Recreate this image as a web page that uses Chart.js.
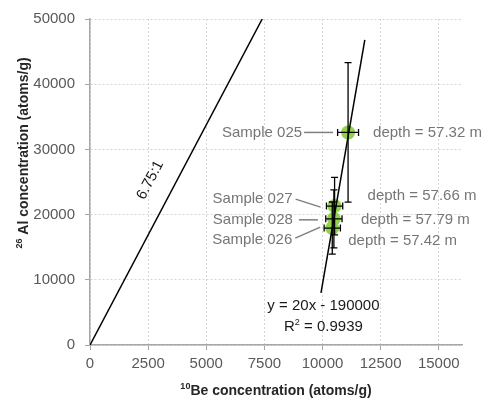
<!DOCTYPE html>
<html>
<head>
<meta charset="utf-8">
<script src="https://cdn.jsdelivr.net/npm/chart.js@4.4.0/dist/chart.umd.min.js"></script>
<style>
  body { margin: 0; background: #fff; }
  #wrap { width: 488px; height: 404px; }
</style>
</head>
<body>
<div id="wrap"><canvas id="chart"></canvas></div>
<script>
// Samples
const sampleNames = ["Sample 025", "Sample 027", "Sample 028", "Sample 026"];
const sampleDepths = ["depth = 57.32 m", "depth = 57.66 m", "depth = 57.79 m", "depth = 57.42 m"];
const beValues = [11100, 10520, 10490, 10420];
const alValues = [32600, 21300, 19350, 17930];
const beErrors = [450, 350, 350, 350];
const alErrors = [10700, 4400, 4450, 4000];

// 6.75:1 production ratio line
const ratioX = [0, 7407];
const ratioY = [0, 50000];

// Linear fit through the samples
const fitX = [9935, 11820];
const fitY = [8000, 46800];

// Axis ticks
const xTickValues = [0, 2500, 5000, 7500, 10000, 12500, 15000];
const yTickValues = [0, 10000, 20000, 30000, 40000, 50000];

const font = "'Liberation Sans', Arial, sans-serif";
const textGray = "#767676";

// Label placement around each point (pixels from the point)
const labelOffsets = [
  { name: [-46, 0], lead: [-44, 0, -15, 0], depth: [25, 0] },
  { name: [-42, -7], lead: [-39, -7, -14, 1], depth: [33, -10] },
  { name: [-41, 1], lead: [-35, 1, -16, 1], depth: [27, 1] },
  { name: [-40, 12], lead: [-37, 10, -12, -1], depth: [16, 13] }
];

const toPoints = (xs, ys) => xs.map((v, i) => ({ x: v, y: ys[i] }));

// Draws error bars, labels and axis titles
const annotations = {
  id: "annotations",
  afterDatasetsDraw(chart) {
    const { ctx, scales: { x, y } } = chart;
    ctx.save();

    // Error bars
    ctx.strokeStyle = "#000";
    ctx.lineWidth = 1.3;
    beValues.forEach((bv, i) => {
      const px = x.getPixelForValue(bv);
      const py = y.getPixelForValue(alValues[i]);
      const x1 = x.getPixelForValue(bv - beErrors[i]);
      const x2 = x.getPixelForValue(bv + beErrors[i]);
      const y1 = y.getPixelForValue(alValues[i] + alErrors[i]);
      const y2 = y.getPixelForValue(alValues[i] - alErrors[i]);
      ctx.beginPath();
      ctx.moveTo(x1, py); ctx.lineTo(x2, py);
      ctx.moveTo(x1, py - 3.5); ctx.lineTo(x1, py + 3.5);
      ctx.moveTo(x2, py - 3.5); ctx.lineTo(x2, py + 3.5);
      ctx.moveTo(px, y1); ctx.lineTo(px, y2);
      ctx.moveTo(px - 3.5, y1); ctx.lineTo(px + 3.5, y1);
      ctx.moveTo(px - 3.5, y2); ctx.lineTo(px + 3.5, y2);
      ctx.stroke();
    });

    // Sample labels with leader lines
    ctx.font = "15px " + font;
    ctx.fillStyle = textGray;
    ctx.strokeStyle = "#7f7f7f";
    ctx.lineWidth = 1.5;
    ctx.textBaseline = "middle";
    sampleNames.forEach((name, i) => {
      const px = x.getPixelForValue(beValues[i]);
      const py = y.getPixelForValue(alValues[i]);
      const o = labelOffsets[i];
      ctx.beginPath();
      ctx.moveTo(px + o.lead[0], py + o.lead[1]);
      ctx.lineTo(px + o.lead[2], py + o.lead[3]);
      ctx.stroke();
      ctx.textAlign = "right";
      ctx.fillText(name, px + o.name[0], py + o.name[1]);
      ctx.textAlign = "left";
      ctx.fillText(sampleDepths[i], px + o.depth[0], py + o.depth[1]);
    });

    // Ratio label along the line
    const rx0 = x.getPixelForValue(ratioX[0]), ry0 = y.getPixelForValue(ratioY[0]);
    const rx1 = x.getPixelForValue(ratioX[1]), ry1 = y.getPixelForValue(ratioY[1]);
    const ang = Math.atan2(ry1 - ry0, rx1 - rx0);
    ctx.save();
    ctx.translate(x.getPixelForValue(2590), y.getPixelForValue(25300));
    ctx.rotate(ang);
    ctx.fillStyle = "#1a1a1a";
    ctx.textAlign = "center";
    ctx.fillText("6.75:1", 0, 0);
    ctx.restore();

    // Fit equation
    ctx.fillStyle = "#1a1a1a";
    ctx.textAlign = "center";
    const ex = x.getPixelForValue(10040);
    ctx.fillText("y = 20x - 190000", ex, y.getPixelForValue(6060));
    const r2y = y.getPixelForValue(2730);
    ctx.textAlign = "left";
    const w1 = ctx.measureText("R").width;
    const wAll = w1 + 5 + ctx.measureText(" = 0.9939").width;
    const sx = ex - wAll / 2;
    ctx.fillText("R", sx, r2y);
    ctx.font = "9px " + font;
    ctx.fillText("2", sx + w1, r2y - 5);
    ctx.font = "15px " + font;
    ctx.fillText(" = 0.9939", sx + w1 + 5, r2y);

    // Axis titles
    ctx.fillStyle = "#262626";
    ctx.textBaseline = "alphabetic";
    const bold = "bold 14px " + font;
    const sup = "bold 9px " + font;
    // x title
    ctx.font = bold;
    const xRest = "Be concentration (atoms/g)";
    const wRest = ctx.measureText(xRest).width;
    ctx.font = sup;
    const wSup = ctx.measureText("10").width;
    const tx = (chart.chartArea.left + chart.chartArea.right) / 2 - (wRest + wSup) / 2;
    ctx.fillText("10", tx, 389);
    ctx.font = bold;
    ctx.fillText(xRest, tx + wSup, 395);
    // y title
    ctx.save();
    ctx.translate(28, 153);
    ctx.rotate(-Math.PI / 2);
    const yRest = " Al concentration (atoms/g)";
    const wyRest = ctx.measureText(yRest).width;
    ctx.font = sup;
    const wySup = ctx.measureText("26").width;
    const ty = -(wyRest + wySup) / 2;
    ctx.fillText("26", ty, -6);
    ctx.font = bold;
    ctx.fillText(yRest, ty + wySup, 0);
    ctx.restore();

    ctx.restore();
  }
};

const ctx = document.getElementById("chart").getContext("2d");

new Chart(ctx, {
  type: "scatter",
  data: {
    datasets: [
      {
        label: "6.75:1",
        type: "line",
        data: toPoints(ratioX, ratioY),
        borderColor: "#000",
        borderWidth: 1.5,
        pointRadius: 0,
        order: 0
      },
      {
        label: "fit",
        type: "line",
        data: toPoints(fitX, fitY),
        borderColor: "#000",
        borderWidth: 1.5,
        pointRadius: 0,
        order: 0
      },
      {
        label: "samples",
        data: toPoints(beValues, alValues),
        backgroundColor: "#92d050",
        borderWidth: 0,
        pointRadius: 7,
        order: 1
      }
    ]
  },
  options: {
    responsive: true,
    maintainAspectRatio: false,
    animation: false,
    layout: { padding: { top: 15, right: 26, left: 0, bottom: 0 } },
    plugins: { legend: { display: false }, tooltip: { enabled: false } },
    scales: {
      x: {
        type: "linear",
        min: 0,
        max: 16000,
        afterBuildTicks: s => { s.ticks = xTickValues.map(v => ({ value: v })); },
        afterFit: s => { s.height = 59; },
        ticks: { font: { family: font, size: 15 }, color: "#595959", padding: 5, maxRotation: 0, callback: v => String(v) },
        grid: { color: "#d6d6d6", tickColor: "#a6a6a6", tickLength: 5, tickBorderDash: [] },
        border: { color: "#a6a6a6", width: 1.5, dash: [2, 2] }
      },
      y: {
        type: "linear",
        min: 0,
        max: 50000,
        afterBuildTicks: s => { s.ticks = yTickValues.map(v => ({ value: v })); },
        afterFit: s => { s.width = 90; },
        ticks: { font: { family: font, size: 15 }, color: "#595959", padding: 10, callback: v => String(v) },
        grid: { color: "#d6d6d6", tickColor: "#a6a6a6", tickLength: 5, tickBorderDash: [] },
        border: { color: "#a6a6a6", width: 1.5, dash: [2, 2] }
      }
    }
  },
  plugins: [annotations]
});
</script>
</body>
</html>
